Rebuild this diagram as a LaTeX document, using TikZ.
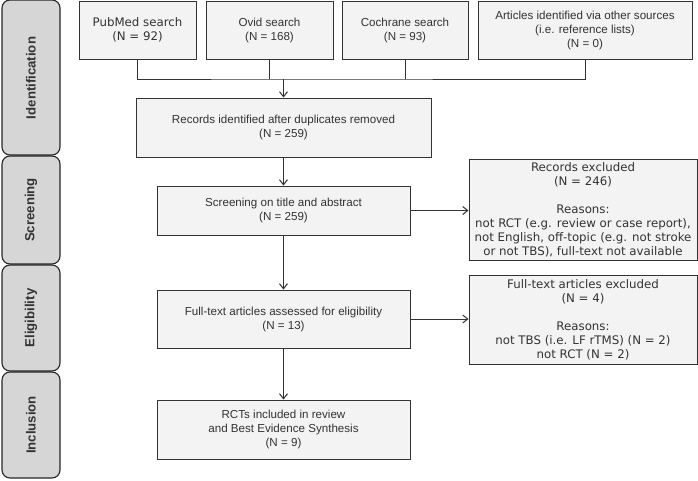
\documentclass[tikz,border=0pt]{standalone}
\usepackage{fontspec}
\setmainfont{Liberation Sans}
\newfontfamily\verd{DejaVu Sans}
\usetikzlibrary{arrows.meta}
\definecolor{boxfill}{HTML}{F3F3F3}
\definecolor{tabfill}{HTML}{D6D6D6}
\definecolor{linegray}{HTML}{333333}
\tikzset{
  x=1pt, y=-1pt,
  box/.style={draw=linegray, line width=1pt, fill=boxfill, align=center, inner sep=0pt,
    font=\fontsize{11.6}{14}\selectfont, text=linegray},
  vbox/.style={box, font=\verd\fontsize{11.8}{14}\selectfont},
  tab/.style={draw=black!85, line width=1.1pt, fill=tabfill, rounded corners=8pt},
  tablabel/.style={rotate=90, font=\bfseries\fontsize{13.2}{15}\selectfont, text=linegray},
  conn/.style={draw=linegray, line width=1pt},
  arr/.style={conn, -{Straight Barb[length=5pt,width=8pt]}},
}
\begin{document}
\begin{tikzpicture}
\useasboundingbox (0,0) rectangle (698,480);
% tabs
\draw[tab] (2,0) rectangle (60,155);
\draw[tab] (2,156) rectangle (60,264);
\draw[tab] (2,265) rectangle (60,371);
\draw[tab] (2,372) rectangle (60,478);
\node[tablabel] (tid) at (31,78) {Identification};
\node[tablabel] (tsc) at (31,210) {Screening};
\node[tablabel] (tel) at (31,318) {Eligibility};
\node[tablabel] (tin) at (31,425) {Inclusion};
% top row
\node[vbox, minimum width=117pt, minimum height=58pt] (pub) at (137.5,30) {PubMed search\\(N = 92)};
\node[box, minimum width=127pt, minimum height=58pt] (ovid) at (269.5,30) {Ovid search\\(N = 168)};
\node[box, minimum width=126pt, minimum height=58pt] (coch) at (405,30) {Cochrane search\\(N = 93)};
\node[box, minimum width=214pt, minimum height=58pt] (oth) at (585,30) {Articles identified via other sources\\(i.e. reference lists)\\(N = 0)};
% main column
\node[box, minimum width=295pt, minimum height=59pt] (rec) at (283.5,127.5) {Records identified after duplicates removed\\(N = 259)};
\node[box, minimum width=253pt, minimum height=49pt] (scr) at (283.5,210.5) {Screening on title and abstract\\(N = 259)};
\node[box, minimum width=253pt, minimum height=58pt] (ful) at (283.5,319) {Full-text articles assessed for eligibility\\(N = 13)};
\node[box, minimum width=253pt, minimum height=59pt] (rct) at (283.5,429.5) {RCTs included in review\\and Best Evidence Synthesis\\(N = 9)};
% excluded
\node[vbox, minimum width=228pt, minimum height=101pt] (rex) at (583,209.5) {Records excluded\\(N = 246)\\[14pt]Reasons:\\not RCT (e.g. review or case report),\\not English, off-topic (e.g. not stroke\\or not TBS), full-text not available};
\node[vbox, minimum width=228pt, minimum height=89pt] (fex) at (583,319.5) {Full-text articles excluded\\(N = 4)\\[14pt]Reasons:\\not TBS (i.e. LF rTMS) (N = 2)\\not RCT (N = 2)};
% connectors
\coordinate (j) at (283.5,79);
\draw[conn] (pub.south) |- (j) -| (oth.south);
\draw[conn] (ovid.south) -- (ovid.south |- j);
\draw[conn] (coch.south) -- (coch.south |- j);
\draw[arr] (j) -- (rec.north);
\draw[arr] (rec.south) -- (scr.north);
\draw[arr] (scr.south) -- (ful.north);
\draw[arr] (ful.south) -- (rct.north);
\draw[arr] (scr.east) -- (scr.east -| rex.west);
\draw[arr] (ful.east) -- (ful.east -| fex.west);
\end{tikzpicture}
\end{document}
